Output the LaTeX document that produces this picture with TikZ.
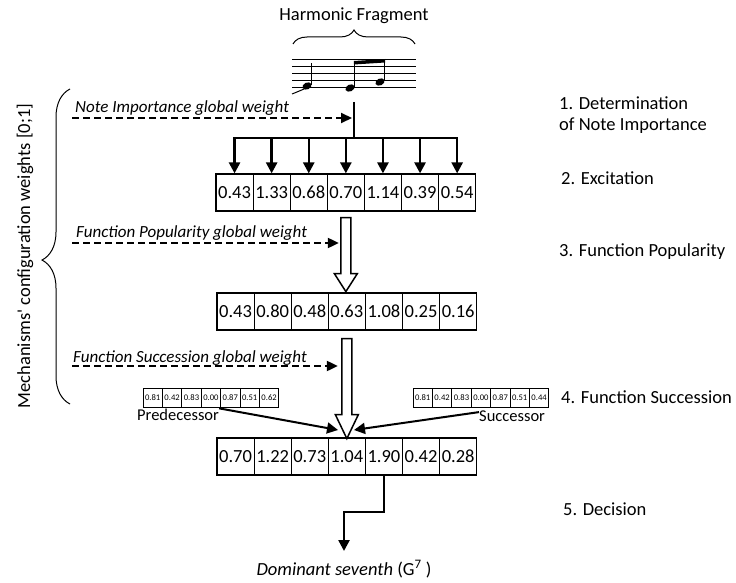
\documentclass[tikz,border=0pt]{standalone}
\usepackage{fontspec}
\setmainfont{Carlito}[Numbers=Lining]
\usetikzlibrary{arrows.meta,decorations.pathreplacing,calc}

\tikzset{
  cell/.style={draw,line width=1.2pt,minimum width=37.1pt,minimum height=37pt,inner sep=0pt,font=\fontsize{18.5}{22}\selectfont},
  tinycell/.style={draw,line width=1pt,minimum width=19.4pt,minimum height=19.5pt,inner sep=0pt,font=\fontsize{8.6}{10}\selectfont},
  wdash/.style={line width=2pt,dash pattern=on 7pt off 4pt,-{Triangle[length=11pt,width=10pt]}},
  feed/.style={line width=2.5pt,-{Triangle[length=11pt,width=11pt]}},
  hollow/.style={draw,line width=1.5pt,fill=white,line join=miter},
  stage/.style={font=\fontsize{18.5}{22}\selectfont,inner sep=0pt,anchor=base west},
  weightlbl/.style={font=\fontsize{17}{20}\selectfont\itshape,inner sep=0pt,anchor=base west},
}

\begin{document}
\begin{tikzpicture}[x=1pt,y=-1pt]
  \useasboundingbox (0,0) rectangle (736,583);

  % harmonic fragment
  \node[font=\fontsize{18.5}{22}\selectfont,inner sep=0pt,anchor=base] (frgl) at (354,21) {Harmonic Fragment};
  \draw[line width=1pt,decorate,decoration={brace,amplitude=14pt}] (293,44) -- (415,44);
  \foreach \y in {59,66,...,87}
    \draw[line width=0.8pt] (292,\y) -- (416,\y);
  \fill[rotate around={25:(307,86)}] (307,86) ellipse (4.8 and 3.4);
  \fill[rotate around={25:(350,88)}] (350,88) ellipse (4.8 and 3.4);
  \fill[rotate around={25:(380,82)}] (380,82) ellipse (4.8 and 3.4);
  \draw[line width=1.2pt] (311.5,85) -- (311.5,63);
  \draw[line width=1.2pt] (354.5,87) -- (354.5,62);
  \draw[line width=1.2pt] (384.5,81) -- (384.5,60);
  \fill (353.9,61) -- (385.1,59) -- (385.1,62.5) -- (353.9,64.5) -- cycle;
  \draw[line width=1pt] (292,94) .. controls (297,92) .. (304,89);
  \coordinate (frag) at (354,102);
  \coordinate (split) at (354,138);

  % mechanism weights
  \node[rotate=90,font=\fontsize{18.5}{22}\selectfont,inner sep=0pt] (mech) at (25,256) {Mechanisms\textquotesingle\ configuration weights [0;1]};
  \draw[line width=1pt,decorate,decoration={brace,amplitude=28pt,aspect=0.457}] (70,404) -- (70,89);

  % excitation
  \foreach \v [count=\i] in {0.43,1.33,0.68,0.70,1.14,0.39,0.54}
    \node[cell] (e\i) at ({216+37.1*(\i-0.5)},192.5) {\v};
  \draw[line width=2.5pt] (frag) -- (split);
  \draw[line width=2.5pt,line cap=rect] (e1.north |- split) -- (e7.north |- split);
  \foreach \i in {1,...,7}
    \draw[feed] (e\i.north |- split) -- (e\i.north);

  \node[weightlbl] (niw) at (75,113) {Note Importance global weight};
  \coordinate (niw-s) at (72,118);
  \draw[wdash] (niw-s) -- ($(frag |- niw-s)+(-2,0)$);

  % function popularity
  \foreach \v [count=\i] in {0.43,0.80,0.48,0.63,1.08,0.25,0.16}
    \node[cell] (p\i) at ({217+37.1*(\i-0.5)},311.5) {\v};
  \draw[hollow] ($(e4.south)+(-5,6)$) -- ($(e4.south)+(-5,62)$) -- ($(e4.south)+(-11.5,62)$)
    -- ($(e4.south)+(0,80)$) -- ($(e4.south)+(11.5,62)$) -- ($(e4.south)+(5,62)$)
    -- ($(e4.south)+(5,6)$) -- cycle;

  \node[weightlbl] (fpw) at (76,237) {Function Popularity global weight};
  \coordinate (fpw-s) at (72,243);
  \draw[wdash] (fpw-s) -- ($(e4.south |- fpw-s)+(-7,0)$);

  % function succession
  \foreach \v [count=\i] in {0.81,0.42,0.83,0.00,0.87,0.51,0.62}
    \node[tinycell] (pr\i) at ({143+19.4*(\i-0.5)},398) {\v};
  \foreach \v [count=\i] in {0.81,0.42,0.83,0.00,0.87,0.51,0.44}
    \node[tinycell] (su\i) at ({413+19.4*(\i-0.5)},398) {\v};
  \node[font=\fontsize{16.5}{19}\selectfont,inner sep=0pt,anchor=base west] (predl) at (137,420) {Predecessor};
  \node[font=\fontsize{16.5}{19}\selectfont,inner sep=0pt,anchor=base west] (succl) at (479,421) {Successor};

  \foreach \v [count=\i] in {0.70,1.22,0.73,1.04,1.90,0.42,0.28}
    \node[cell] (d\i) at ({217+37.1*(\i-0.5)},456.5) {\v};
  \draw[hollow] ($(p4.south)+(-5,8)$) -- ($(p4.south)+(-5,84)$) -- ($(p4.south)+(-11.5,84)$)
    -- ($(p4.south)+(0,108)$) -- ($(p4.south)+(11.5,84)$) -- ($(p4.south)+(5,84)$)
    -- ($(p4.south)+(5,8)$) -- cycle;

  \node[weightlbl] (fsw) at (73,362) {Function Succession global weight};
  \coordinate (fsw-s) at (72,366);
  \draw[wdash] (fsw-s) -- ($(p4.south |- fsw-s)+(-9,0)$);

  \coordinate (jl) at (338,430);
  \coordinate (jr) at (354,430);
  \draw[feed,line width=2pt] (predl.north east) -- (jl);
  \draw[feed,line width=2pt] ($(succl.north west)+(0,2)$) -- (jr);

  % decision
  \coordinate (out) at (344,551);
  \draw[feed,line join=miter] (d5.south) -- (d5.south |- 0,512) -- (out |- 0,512) -- (out);
  \node[font=\fontsize{18.5}{22}\selectfont,inner sep=0pt,anchor=base] (dom) at (344,575) {\textit{Dominant seventh} (G\textsuperscript{7} )};

  % stages
  \node[stage] (s1) at (559,110) {1. Determination};
  \node[stage] (s1b) at (559,131) {of Note Importance};
  \node[stage] (s2) at (561,184) {2. Excitation};
  \node[stage] (s3) at (559,256) {3. Function Popularity};
  \node[stage] (s4) at (561,403) {4. Function Succession};
  \node[stage] (s5) at (563,515) {5. Decision};
\end{tikzpicture}
\end{document}
